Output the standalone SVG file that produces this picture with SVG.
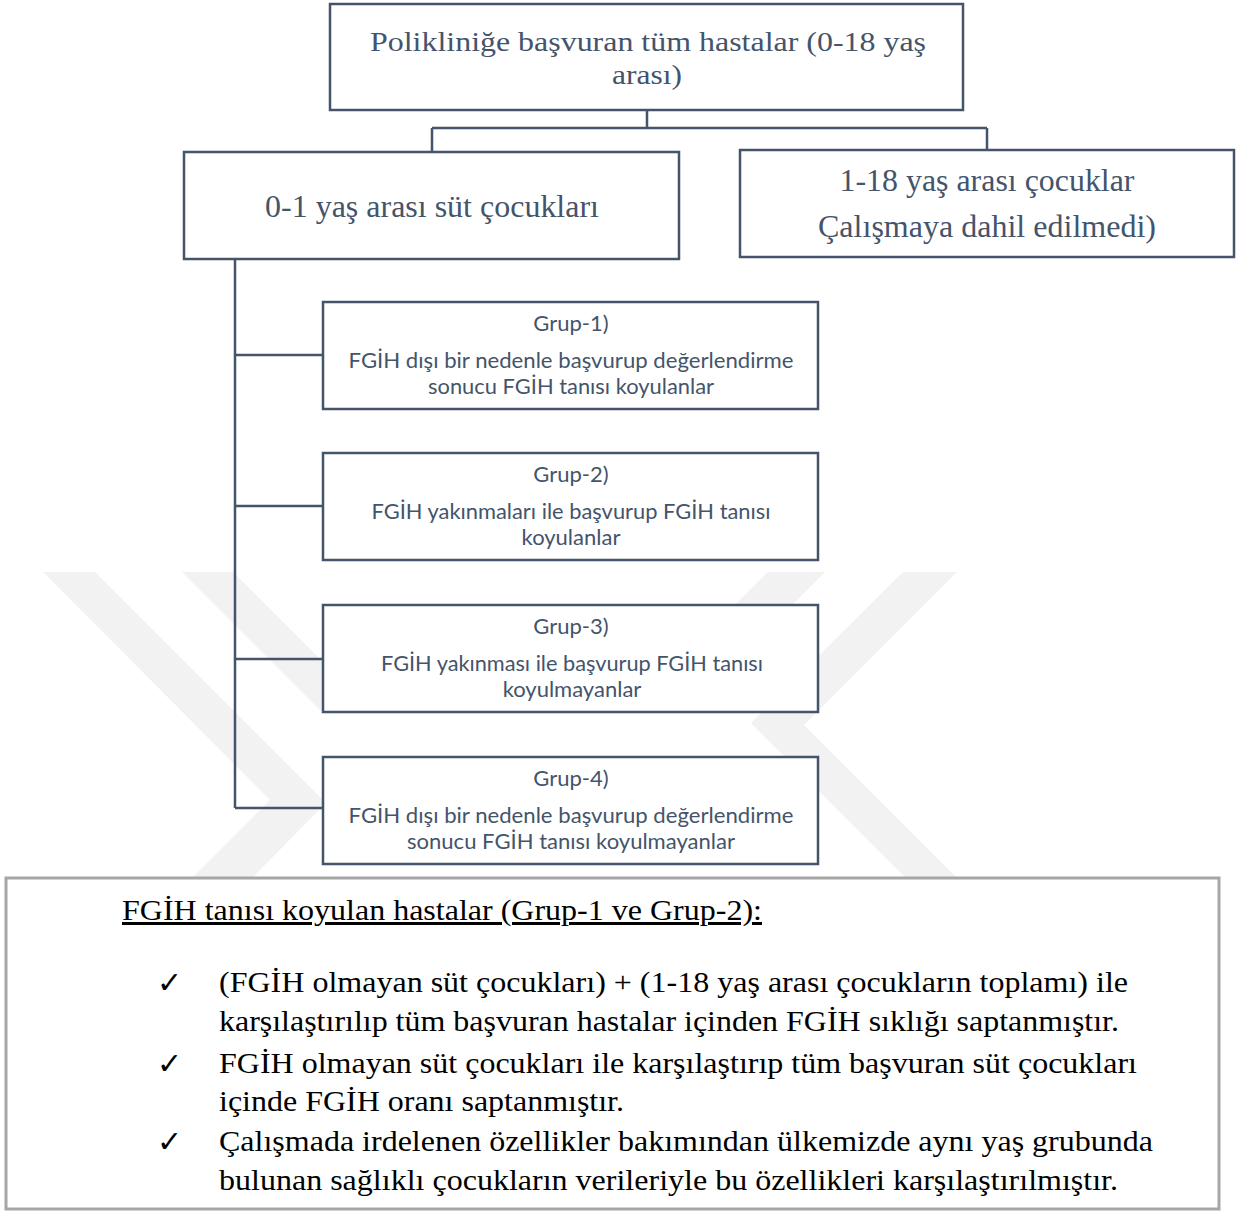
<svg xmlns="http://www.w3.org/2000/svg" width="1247" height="1211" viewBox="0 0 1247 1211">
  <style>
    .node { fill: #ffffff; stroke: #44546A; stroke-width: 2.5; }
    .conn { fill: none; stroke: #44546A; stroke-width: 2.5; }
    .serif { font-family: "Liberation Serif", "Times New Roman", serif; font-size: 31px; fill: #44546A; text-anchor: middle; }
    .serif-sm { font-family: "Liberation Serif", "Times New Roman", serif; font-size: 28px; fill: #44546A; text-anchor: middle; }
    .sans { font-family: Lato, "Open Sans", sans-serif; font-size: 22px; fill: #44546A; text-anchor: middle; }
    .body { font-family: "Liberation Serif", "Times New Roman", serif; font-size: 30px; fill: #000000; }
    .check { font-family: "DejaVu Sans", sans-serif; font-size: 30px; fill: #000000; }
    .wm { fill: #f2f2f2; }
  </style>

  <rect x="0" y="0" width="1247" height="1211" fill="#ffffff"/>

  <g id="watermark">
    <polygon class="wm" points="43,572 95,572 326,803 252,878 192,878 270,800"/>
    <polygon class="wm" points="182,572 233,572 372,711 321,711"/>
    <polygon class="wm" points="903,572 957,572 804,725 957,878 906,878 751,723"/>
    <polygon class="wm" points="768,572 825,572 692,705 635,705"/>
  </g>

  <g id="connectors">
    <path class="conn" d="M647,110 V128 M432,128 H987 M432,128 V152 M987,128 V150"/>
    <path class="conn" d="M235,259 V808 M235,355 H323 M235,506 H323 M235,659 H323 M235,808 H323"/>
  </g>

  <g id="node-all">
    <rect class="node" x="330" y="4" width="633" height="106"/>
    <text class="serif-sm" x="648" y="51" textLength="556" lengthAdjust="spacingAndGlyphs">Polikliniğe başvuran tüm hastalar (0-18 yaş</text>
    <text class="serif-sm" x="647" y="84" textLength="70" lengthAdjust="spacingAndGlyphs">arası)</text>
  </g>

  <g id="node-infants">
    <rect class="node" x="184" y="152" width="495" height="107"/>
    <text class="serif" x="432" y="217" textLength="334" lengthAdjust="spacingAndGlyphs">0-1 yaş arası süt çocukları</text>
  </g>

  <g id="node-children">
    <rect class="node" x="740" y="150" width="494" height="107"/>
    <text class="serif" x="987" y="191" textLength="295" lengthAdjust="spacingAndGlyphs">1-18 yaş arası çocuklar</text>
    <text class="serif" x="987" y="237" textLength="338" lengthAdjust="spacingAndGlyphs">Çalışmaya dahil edilmedi)</text>
  </g>

  <g id="node-grup1">
    <rect class="node" x="323" y="302" width="495" height="107"/>
    <text class="sans" x="571" y="331">Grup-1)</text>
    <text class="sans" x="571" y="368" textLength="445" lengthAdjust="spacingAndGlyphs">FGİH dışı bir nedenle başvurup değerlendirme</text>
    <text class="sans" x="571" y="394" textLength="286" lengthAdjust="spacingAndGlyphs">sonucu FGİH tanısı koyulanlar</text>
  </g>

  <g id="node-grup2">
    <rect class="node" x="323" y="453" width="495" height="107"/>
    <text class="sans" x="571" y="482">Grup-2)</text>
    <text class="sans" x="571" y="519" textLength="399" lengthAdjust="spacingAndGlyphs">FGİH yakınmaları ile başvurup FGİH tanısı</text>
    <text class="sans" x="571" y="545">koyulanlar</text>
  </g>

  <g id="node-grup3">
    <rect class="node" x="323" y="605" width="495" height="107"/>
    <text class="sans" x="571" y="634">Grup-3)</text>
    <text class="sans" x="572" y="671" textLength="382" lengthAdjust="spacingAndGlyphs">FGİH yakınması ile başvurup FGİH tanısı</text>
    <text class="sans" x="572" y="697">koyulmayanlar</text>
  </g>

  <g id="node-grup4">
    <rect class="node" x="323" y="757" width="495" height="107"/>
    <text class="sans" x="571" y="786">Grup-4)</text>
    <text class="sans" x="571" y="823" textLength="445" lengthAdjust="spacingAndGlyphs">FGİH dışı bir nedenle başvurup değerlendirme</text>
    <text class="sans" x="571" y="849" textLength="328" lengthAdjust="spacingAndGlyphs">sonucu FGİH tanısı koyulmayanlar</text>
  </g>

  <g id="node-notes">
    <rect x="6" y="878" width="1213" height="331" fill="#ffffff" stroke="#a6a6a6" stroke-width="3"/>
    <text class="body" x="122" y="920" textLength="640" lengthAdjust="spacingAndGlyphs" text-decoration="underline">FGİH tanısı koyulan hastalar (Grup-1 ve Grup-2):</text>
    <text class="check" x="157" y="993">✓</text>
    <text class="body" x="219" y="992" textLength="909" lengthAdjust="spacingAndGlyphs">(FGİH olmayan süt çocukları) + (1-18 yaş arası çocukların toplamı) ile</text>
    <text class="body" x="219" y="1031" textLength="900" lengthAdjust="spacingAndGlyphs">karşılaştırılıp tüm başvuran hastalar içinden FGİH sıklığı saptanmıştır.</text>
    <text class="check" x="157" y="1074">✓</text>
    <text class="body" x="219" y="1073" textLength="918" lengthAdjust="spacingAndGlyphs">FGİH olmayan süt çocukları ile karşılaştırıp tüm başvuran süt çocukları</text>
    <text class="body" x="219" y="1111" textLength="405" lengthAdjust="spacingAndGlyphs">içinde FGİH oranı saptanmıştır.</text>
    <text class="check" x="157" y="1152">✓</text>
    <text class="body" x="219" y="1151" textLength="934" lengthAdjust="spacingAndGlyphs">Çalışmada irdelenen özellikler bakımından ülkemizde aynı yaş grubunda</text>
    <text class="body" x="219" y="1190" textLength="899" lengthAdjust="spacingAndGlyphs">bulunan sağlıklı çocukların verileriyle bu özellikleri karşılaştırılmıştır.</text>
  </g>
</svg>
